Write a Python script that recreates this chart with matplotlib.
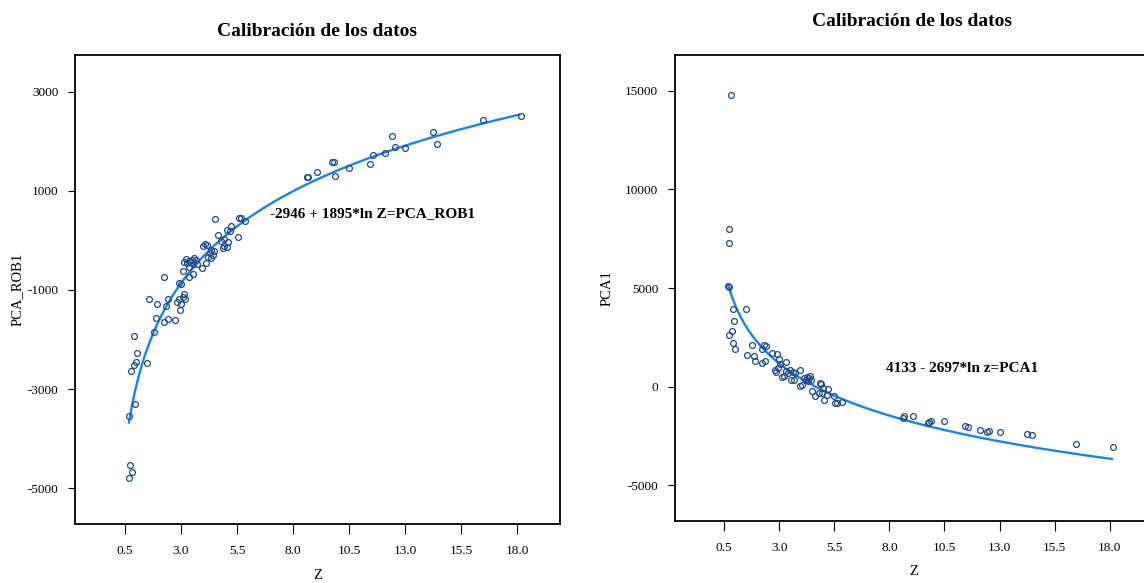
import numpy as np
import matplotlib
matplotlib.use("Agg")
import matplotlib.pyplot as plt

# --- datos ---
# panel izquierdo: Z vs PCA_ROB1
z_rob = [8.64, 8.67, 9.08, 9.74, 9.84, 9.89, 10.48, 11.43, 11.58, 12.13, 12.41,
         12.54, 13.02, 14.25, 14.45, 16.47, 18.18,
         0.69, 0.95, 0.72, 0.80, 0.69, 0.90, 1.04, 0.98, 0.92, 0.77, 1.50, 1.79,
         1.58, 1.94, 1.90, 2.24, 2.33, 2.40, 2.25, 2.41, 2.72, 2.84, 2.93, 2.96,
         2.99, 3.08, 3.12, 3.17, 2.90, 3.00, 3.08, 3.36, 3.55, 3.21, 3.15, 3.26,
         3.36, 3.44, 3.51, 3.60, 3.66, 3.71, 3.37, 3.52, 3.95, 4.13, 3.97, 4.06,
         4.15, 4.22, 4.29, 4.36, 4.41, 4.47, 4.32, 4.53, 4.66, 4.77, 4.86, 4.91,
         5.06, 5.11, 4.94, 5.06, 5.18, 5.24, 5.55, 5.60, 5.67, 5.85]
pca_rob1 = [1277, 1289, 1390, 1592, 1592, 1310, 1465, 1546, 1734, 1768, 2105,
            1883, 1869, 2192, 1956, 2434, 2515,
            -3545, -3302, -4535, -4683, -4791, -1935, -2272, -2454, -2515, -2636,
            -2468, -1855, -1181, -1289, -1565, -731, -1316, -1188, -1646, -1579,
            -1599, -1248, -1175, -1404, -1283, -1134, -1080, -1188, -852, -886,
            -623, -731, -684, -373, -427, -447, -407, -434, -393, -360, -393, -474,
            -528, -481, -548, -447, -104, -70, -91, -326, -259, -360, -292, -205,
            -192, 428, 111, -3, -158, -111, -138, -23, 30, 212, 198, 299, 77, 448,
            461, 387]

# panel derecho: Z vs PCA1
z_pca = [8.61, 8.66, 9.09, 9.74, 9.82, 9.88, 10.49, 11.44, 11.59, 12.12, 12.42,
         12.54, 13.02, 14.23, 14.46, 16.47, 18.16,
         0.79, 0.70, 0.70, 0.68, 0.70, 0.92, 1.48, 0.95, 0.87, 0.74, 0.92, 1.01,
         1.54, 1.78, 1.87, 1.91, 2.20, 2.35, 2.22, 2.29, 2.38, 2.67, 2.91, 2.99,
         2.81, 2.87, 2.95, 3.05, 3.14, 3.20, 3.32, 3.29, 3.40, 3.47, 3.52, 3.66,
         3.70, 3.93, 3.63, 3.93, 4.05, 4.11, 4.20, 4.26, 4.31, 4.35, 4.41, 4.46,
         4.50, 4.62, 4.80, 4.83, 4.88, 4.92, 5.01, 5.04, 5.16, 5.20, 5.50, 5.55,
         5.62, 5.83]
pca1 = [-1590, -1506, -1506, -1844, -1810, -1742, -1726, -2013, -2047, -2183,
        -2318, -2284, -2318, -2436, -2487, -2910, -3063,
        14806, 8004, 7275, 5092, 5058, 3909, 3909, 3316, 2792, 2589, 2183, 1929,
        1591, 2115, 1540, 1286, 1218, 1286, 1912, 2132, 2047, 1692, 1641, 1404,
        829, 744, 947, 1117, 490, 524, 1235, 778, 694, 829, 355, 321, 694, 863,
        744, 17, 51, 440, 321, 490, 271, 440, 524, 355, -237, -491, -355, 186,
        152, -321, -68, -660, -423, -152, -457, -829, -829, -795]

# coeficientes del ajuste logaritmico (texto del grafico)
a_rob, b_rob = -2946, 1895
a_pca, b_pca = 4133, -2697

x_ticks = [0.5, 3.0, 5.5, 8.0, 10.5, 13.0, 15.5, 18.0]

plt.rcParams["font.family"] = ["Liberation Serif", "DejaVu Serif"]
plt.rcParams["axes.unicode_minus"] = False

W, H = 1144, 583
fig = plt.figure(figsize=(W / 100, H / 100), dpi=100)

ax1 = fig.add_axes([75 / W, 1 - 524 / H, 485 / W, 469 / H])
ax2 = fig.add_axes([675 / W, 1 - 521 / H, 477 / W, 466 / H])

line_col = "#1a82f0"
pt_col = "#1d4a8a"

zz = np.linspace(0.68, 18.1, 300)

def panel(ax, zs, ys, a, b, ylim, yticks, ylabel, eq, eq_pos, xlab_y, ylab_x):
    ax.plot(zz, a + b * np.log(zz), color=line_col, lw=1.7, zorder=2)
    ax.plot(zs, ys, "o", ms=4.2, mfc="none", mec=pt_col, mew=0.9, zorder=3)
    ax.set_xlim(-1.73, 19.92)
    ax.set_ylim(*ylim)
    ax.set_xticks(x_ticks)
    ax.set_xticklabels([f"{t:.1f}" for t in x_ticks])
    ax.set_yticks(yticks)
    ax.tick_params(axis="x", length=7, width=0.8, pad=8, labelsize=9.5)
    ax.tick_params(axis="y", length=5, width=0.8, pad=7, labelsize=9.5)
    for s in ax.spines.values():
        s.set_linewidth(1.3)
    ax.set_xlabel("Z", fontsize=10.5)
    ax.set_ylabel(ylabel, fontsize=10.5)
    ax.xaxis.set_label_coords(0.5, xlab_y)
    ax.yaxis.set_label_coords(ylab_x, 0.5)
    ax.text(eq_pos[0], eq_pos[1], eq, fontsize=11, fontweight="bold",
            ha="left", va="center")

panel(ax1, z_rob, pca_rob1, a_rob, b_rob, (-5727, 3747),
      [-5000, -3000, -1000, 1000, 3000], "PCA_ROB1",
      "-2946 + 1895*ln Z=PCA_ROB1", (6.97, 535), -0.095, -0.105)
panel(ax2, z_pca, pca1, a_pca, b_pca, (-6827, 16827),
      [-5000, 0, 5000, 10000, 15000], "PCA1",
      "4133 - 2697*ln z=PCA1", (7.85, 914), -0.095, -0.128)

fig.text(317 / W, 1 - 31 / H, "Calibración de los datos", fontsize=14,
         fontweight="bold", ha="center", va="center")
fig.text(912 / W, 1 - 21 / H, "Calibración de los datos", fontsize=14,
         fontweight="bold", ha="center", va="center")

fig.savefig("out.png", dpi=100)
